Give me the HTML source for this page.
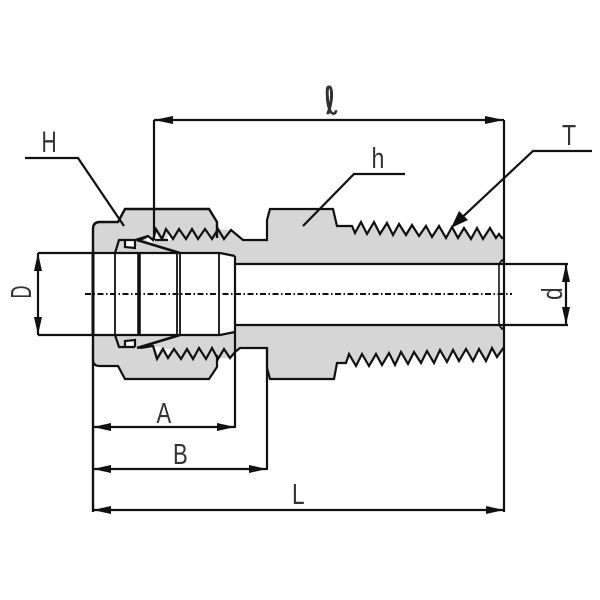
<!DOCTYPE html>
<html><head><meta charset="utf-8"><style>
html,body{margin:0;padding:0;background:#fff}
svg{display:block}
text{font-family:"Liberation Sans",sans-serif;fill:#333}
</style></head><body>
<svg width="600" height="600" viewBox="0 0 600 600" xmlns="http://www.w3.org/2000/svg">
<!-- gray body -->
<path fill="#d6d6d6" stroke="none" d="M93 253V229Q93 222 100 222H118L125 209H209L217 222V229L231 230L243 240H267V220L270 209H333L337 226H352L355 233L361 222L367 234L374 222L380 234L387 223L393 235L399 224L406 235L412 225L419 236L426 226L432 237L439 226L446 238L452 227L458 238L464 228L471 239L477 228L483 239L490 228L496 238L499 234L502 238L504 237V347L497 357L492 348L486 361L479 349L473 361L466 349L459 361L453 350L447 362L440 350L434 363L427 351L421 363L414 352L408 364L401 352L395 365L389 353L382 365L376 354L369 366L362 354L356 366L349 354L346 363H337L334 379H270L267 368V348H243L235 352L230 358H217V367L209 379H125L118 366H100Q93 366 93 360Z"/>
<rect x="93" y="253" width="127" height="82" fill="#fff"/>
<path d="M220 253L235 256V264H504V325H235V332L220 335Z" fill="#fff"/>
<!-- white reliefs -->
<path fill="#fff" d="M155 240L156 233L160 240ZM166 240L168 234L172 240Z"/>
<path fill="#fff" d="M146 240L148 237L153 242L150 243ZM147 347L153 346L156 351ZM155 347H161L158 354ZM163 349H171L168 356Z"/>
<path fill="#fff" d="M125 241H135V246L138 248H127ZM125 347V341L135 340V347Z"/>
<g fill="none" stroke="#111" stroke-width="2.2" stroke-linejoin="miter" stroke-linecap="butt">
<!-- top outline -->
<path d="M93 512V229Q93 222 100 222H118L125 209H209L217 222V238" stroke-width="2.4"/>
<path d="M140 240L148 236L153 240L156 229L162 239L166 229L173 239L179 229L186 239L192 229L198 239L205 229L212 239L218 229L224 239L231 230L243 240H267V220L270 209H333L337 226H352L355 233L361 222L367 234L374 222L380 234L387 223L393 235L399 224L406 235L412 225L419 236L426 226L432 237L439 226L446 238L452 227L458 238L464 228L471 239L477 228L483 239L490 228L496 238L499 234L502 238L504 237"/>
<path d="M155 240H168"/>
<!-- bottom outline -->
<path d="M93 360Q93 366 100 366H118L125 379H209L217 367V355"/>
<path d="M140 348L153 346L157 359L163 349L168 358L174 349L181 359L187 349L193 359L199 348L206 359L212 348L218 359L224 349L230 358L235 352L240 348H267V368L270 379H334L337 363H346L349 354L356 366L362 354L369 366L376 354L382 365L389 353L395 365L401 352L408 364L414 352L421 363L427 351L434 363L440 350L447 362L453 350L459 361L466 349L473 361L479 349L486 361L492 348L497 357L504 347"/>
<!-- bore -->
<path d="M38 253H220L235 256"/>
<path d="M38 335H220L235 332"/>
<path d="M235 264H568M235 325H568"/>
<path d="M499 325V264L502 260L504 262M499 325L502 329L504 327" stroke-width="1.600"/>
<!-- ferrule -->
<path d="M115 253L119 240H135L148 236"/>
<path d="M115 335L119 347H135"/>
<path d="M137 240L180 253M137 348L180 335" stroke-width="2.600"/>
<path d="M125 241V247L135 248V241M125 347V341L135 340V347"/>
<path d="M115 253V335M177 253V335M180 253V335M219 253V335" stroke-width="1.800"/>
<path d="M139 253V335" stroke-width="3.600"/>
<path d="M93 253V335" stroke-width="3"/>
<!-- extension lines -->
<path d="M154 120V240M504 120V512M235 256V428M267 348V470"/>
<!-- dimensions -->
<path d="M154 120H504M93 427H235M93 469H267M93 510H504M38 253V335M566 264V325"/>
<!-- leaders -->
<path d="M25 158H78L124 226M405 174H354L303 226M592 151H533L455 224"/>
</g>
<!-- center line -->
<path d="M85 294H512" fill="none" stroke="#111" stroke-width="2" stroke-dasharray="6 2.500 1.500 2.500"/>
<!-- arrowheads -->
<g fill="#111" stroke="none">
<path d="M154 120L173 116V124Z"/><path d="M504 120L485 116V124Z"/>
<path d="M93 427L111 423V431Z"/><path d="M235 427L217 423V431Z"/>
<path d="M93 469L111 465V473Z"/><path d="M267 469L249 465V473Z"/>
<path d="M93 510L111 506V514Z"/><path d="M504 510L486 506V514Z"/>
<path d="M38 253L34 271H42Z"/><path d="M38 335L34 317H42Z"/>
<path d="M566 264L562 282H570Z"/><path d="M566 325L562 307H570Z"/>
<path d="M451 228L459 211L468 220Z"/>
</g>
<!-- labels -->
<text transform="translate(41.500 152) scale(.7 1)" font-size="30">H</text>
<text transform="translate(371.500 168) scale(.8 1)" font-size="29">h</text>
<text transform="translate(562 145) scale(.8 1)" font-size="29">T</text>
<text transform="translate(156.500 423) scale(.76 1)" font-size="29">A</text>
<text transform="translate(173 464) scale(.76 1)" font-size="29">B</text>
<text transform="translate(292 504) scale(.78 1)" font-size="29">L</text>
<text transform="translate(31 298.500) rotate(-90) scale(.62 1)" font-size="29">D</text>
<text transform="translate(562 300) rotate(-90) scale(.78 1)" font-size="29">d</text>
<text transform="translate(327 114) skewX(14) scale(.85 1)" font-size="38" style="font-family:'DejaVu Sans',sans-serif;stroke:#222;stroke-width:.6">ℓ</text>
</svg>
</body></html>
